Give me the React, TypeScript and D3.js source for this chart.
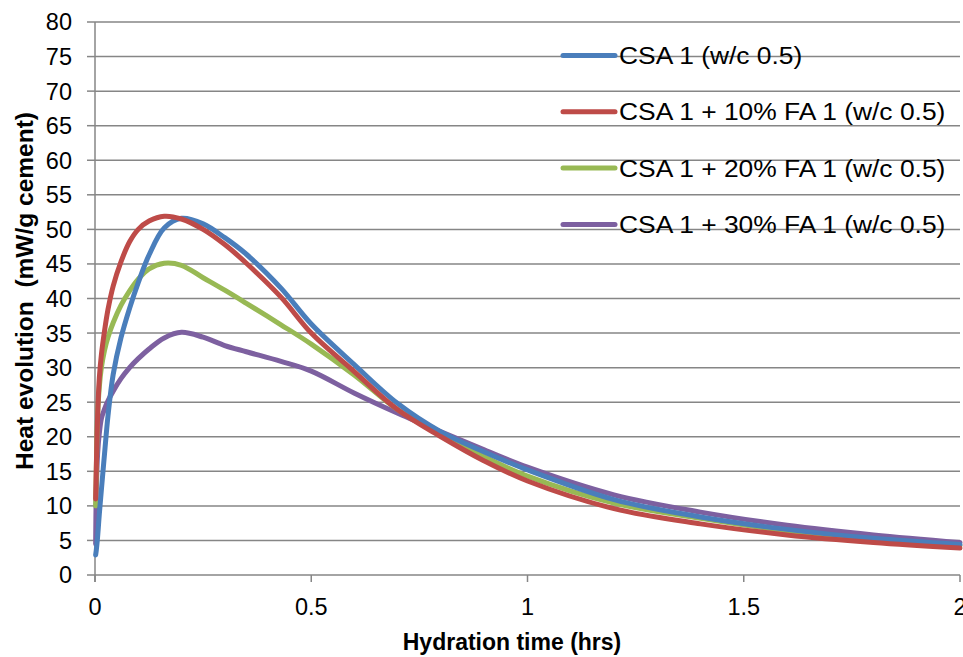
import React from "react";
import * as d3 from "d3";

const timePoints = [0.0015, 0.003, 0.006, 0.01, 0.015, 0.022, 0.03, 0.042, 0.06, 0.08, 0.1, 0.125, 0.16, 0.2, 0.25, 0.3, 0.35, 0.43, 0.5, 0.6, 0.7, 0.8, 0.9, 1.0, 1.2, 1.4, 1.6, 1.8, 2.0];

const csa1 = [2.9, 3.6, 5.5, 8.8, 12.5, 17.5, 23.0, 29.0, 34.3, 38.6, 42.3, 46.3, 50.2, 51.6, 50.8, 48.8, 46.4, 41.5, 36.3, 30.4, 24.8, 20.7, 17.8, 15.2, 10.9, 8.4, 6.6, 5.3, 4.4];
const fa10 = [11.0, 15.5, 23.0, 28.5, 32.0, 35.3, 38.4, 41.8, 45.3, 48.2, 50.0, 51.2, 51.9, 51.5, 50.0, 47.8, 45.1, 40.2, 35.0, 29.4, 23.9, 20.0, 16.5, 13.6, 9.6, 7.4, 5.8, 4.7, 3.9];
const fa20 = [10.0, 15.0, 23.0, 27.2, 30.1, 32.5, 34.4, 36.5, 39.0, 41.1, 42.8, 44.3, 45.1, 44.8, 43.0, 41.2, 39.3, 36.2, 33.4, 28.9, 23.9, 20.3, 17.1, 14.3, 10.4, 8.2, 6.4, 5.2, 4.25];
const fa30 = [4.5, 12.0, 17.5, 20.5, 22.7, 24.0, 25.2, 26.6, 28.4, 30.0, 31.3, 32.7, 34.3, 35.1, 34.4, 33.2, 32.3, 30.9, 29.5, 26.3, 23.4, 20.7, 18.1, 15.6, 11.6, 9.1, 7.2, 5.8, 4.7];

const seriesNames = ["CSA 1 (w/c 0.5)", "CSA 1 + 10% FA 1 (w/c 0.5)", "CSA 1 + 20% FA 1 (w/c 0.5)", "CSA 1 + 30% FA 1 (w/c 0.5)"];
const seriesValues = [csa1, fa10, fa20, fa30];
const seriesColors = ["#4a7ebb", "#be4b48", "#98b954", "#7d60a0"];

const yTicks = d3.range(0, 81, 5);
const xTicks = [0, 0.5, 1, 1.5, 2];
const xTickLabels = ["0", "0.5", "1", "1.5", "2"];

const FONT = "'Liberation Sans', Arial, sans-serif";

export default function App() {
  const width = 963;
  const height = 657;
  const left = 95, right = 960, top = 22, bottom = 575;
  const x = d3.scaleLinear().domain([0, 2]).range([left, right]);
  const y = d3.scaleLinear().domain([0, 80]).range([bottom, top]);
  const line = d3
    .line<number>()
    .x((_, i) => x(timePoints[i]))
    .y((d) => y(d))
    .curve(d3.curveCatmullRom.alpha(0.5));

  const drawOrder = [3, 2, 0, 1];

  return (
    <svg
      width={width}
      height={height}
      style={{ position: "absolute", left: 0, top: 0, background: "#fff" }}
      fontFamily={FONT}
    >
      <rect x={0} y={0} width={width} height={height} fill="#fff" />
      {yTicks.map((t) => (
        <g key={"gy" + t}>
          {t > 0 && (
            <line x1={left} x2={right} y1={y(t)} y2={y(t)} stroke="#868686" strokeWidth={1.5} />
          )}
          <line x1={left - 8} x2={left} y1={y(t)} y2={y(t)} stroke="#868686" strokeWidth={1.5} />
          <text x={72} y={y(t)} dy="0.36em" textAnchor="end" fontSize={23.5} fill="#000">
            {t}
          </text>
        </g>
      ))}
      <line x1={left} x2={left} y1={top} y2={bottom + 7} stroke="#868686" strokeWidth={1.5} />
      <line x1={left} x2={right} y1={bottom} y2={bottom} stroke="#868686" strokeWidth={1.5} />
      {xTicks.map((t, i) => (
        <g key={"gx" + t}>
          <line x1={x(t)} x2={x(t)} y1={bottom} y2={bottom + 7} stroke="#868686" strokeWidth={1.5} />
          <text x={x(t)} y={615} textAnchor="middle" fontSize={23.5} fill="#000">
            {xTickLabels[i]}
          </text>
        </g>
      ))}
      {drawOrder.map((si) => (
        <path
          key={"s" + si}
          d={line(seriesValues[si]) || ""}
          fill="none"
          stroke={seriesColors[si]}
          strokeWidth={5}
          strokeLinejoin="round"
          strokeLinecap="round"
        />
      ))}
      <text x={512} y={650} textAnchor="middle" fontSize={23} fontWeight="bold" fill="#000">
        Hydration time (hrs)
      </text>
      <text
        transform={`translate(33, 291) rotate(-90)`}
        textAnchor="middle"
        fontSize={24.5}
        fontWeight="bold"
        fill="#000"
        style={{ whiteSpace: "pre" }}
      >
        {"Heat evolution  (mW/g cement)"}
      </text>
      {seriesNames.map((name, i) => {
        const ly = 55.5 + i * 56.3;
        return (
          <g key={"lg" + i}>
            <line x1={563} x2={615} y1={ly} y2={ly} stroke={seriesColors[i]} strokeWidth={5} strokeLinecap="round" />
            <text transform={`translate(619, ${ly}) scale(1.1, 1)`} dy="0.36em" fontSize={24} fill="#000">
              {name}
            </text>
          </g>
        );
      })}
    </svg>
  );
}
